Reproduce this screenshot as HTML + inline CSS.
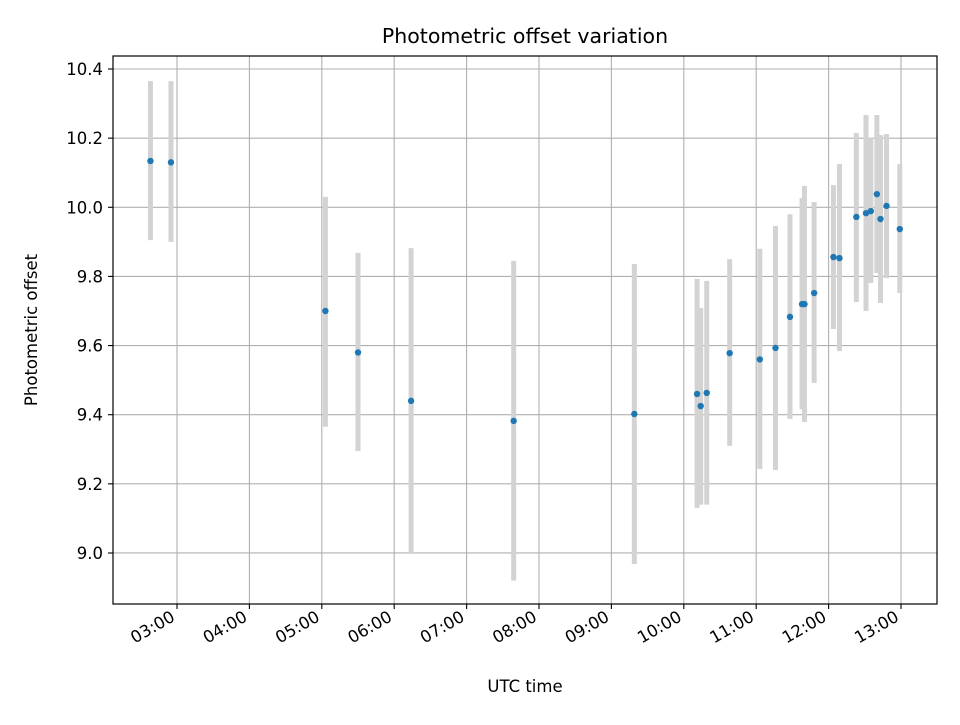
<!DOCTYPE html>
<html><head><meta charset="utf-8"><style>
body{margin:0;background:#fff;}
svg{font-family:"DejaVu Sans","Liberation Sans",sans-serif;}
</style></head><body>
<svg id="chart" width="960" height="720" viewBox="0 0 960 720" xmlns="http://www.w3.org/2000/svg">
<rect width="960" height="720" fill="#fff"/>
<g id="grid"></g>
<g id="bars"></g>
<g id="pts"></g>
<rect x="113" y="56" width="824" height="548" fill="none" stroke="#000" stroke-width="1.2"/>
<g id="axes"></g>
<text x="525" y="43" text-anchor="middle" font-size="20.5">Photometric offset variation</text>
<text x="525" y="692" text-anchor="middle" font-size="16.5">UTC time</text>
<text transform="translate(37,330) rotate(-90)" text-anchor="middle" font-size="16.5">Photometric offset</text>
</svg>
<script>
const times = ["02:38","02:55","05:03","05:30","06:14","07:39","09:19","10:11","10:14","10:19","10:38","11:03","11:16","11:28","11:38","11:40","11:48","12:04","12:09","12:23","12:31","12:35","12:40","12:43","12:48","12:59"];
const values = [10.134,10.13,9.70,9.58,9.44,9.382,9.402,9.46,9.425,9.463,9.578,9.56,9.593,9.683,9.72,9.72,9.752,9.856,9.853,9.972,9.983,9.989,10.038,9.966,10.004,9.937];
const uppers = [10.365,10.365,10.03,9.868,9.882,9.845,9.836,9.793,9.709,9.787,9.85,9.88,9.946,9.98,10.027,10.062,10.015,10.064,10.125,10.215,10.267,10.2,10.267,10.209,10.212,10.125];
const lowers = [9.905,9.90,9.365,9.295,9.0,8.92,8.968,9.13,9.14,9.14,9.31,9.243,9.24,9.388,9.416,9.379,9.492,9.648,9.584,9.726,9.7,9.781,9.81,9.723,9.795,9.752];
const yTicks = [9.0,9.2,9.4,9.6,9.8,10.0,10.2,10.4];
const xTicks = ["03:00","04:00","05:00","06:00","07:00","08:00","09:00","10:00","11:00","12:00","13:00"];

const NS="http://www.w3.org/2000/svg";
function hrs(t){const p=t.split(":");return +p[0]+(+p[1])/60;}
function xs(h){return 177+(h-3)*72.4;}
function ys(v){return 69+(10.4-v)*345.7;}
function mk(tag,attrs,parent){const e=document.createElementNS(NS,tag);for(const k in attrs)e.setAttribute(k,attrs[k]);parent.appendChild(e);return e;}
const grid=document.getElementById('grid'),axes=document.getElementById('axes'),bars=document.getElementById('bars'),pts=document.getElementById('pts');

yTicks.forEach(v=>{
  const y=ys(v);
  const g=mk('line',{x1:113,x2:937,y1:y,y2:y,stroke:'#b0b0b0','stroke-width':1.1},grid);
  
  
  const t=mk('line',{x1:108,x2:113,y1:y,y2:y,stroke:'#000','stroke-width':1.1},axes);
  
  
  const l=mk('text',{x:103,y:y+6,'text-anchor':'end','font-size':16.5},axes);
  l.textContent=v.toFixed(1);
  
  
});
xTicks.forEach(s=>{
  const x=xs(hrs(s));
  const g=mk('line',{x1:x,x2:x,y1:56,y2:604,stroke:'#b0b0b0','stroke-width':1.1},grid);
  
  
  const t=mk('line',{x1:x,x2:x,y1:604,y2:609,stroke:'#000','stroke-width':1.1},axes);
  
  
  const l=mk('text',{x:x-1,y:620,'text-anchor':'end','font-size':16.5,transform:`rotate(-30 ${x-1} 620)`},axes);
  l.textContent=s;
  
  
});
times.forEach((t,i)=>{
  const x=xs(hrs(t));
  const b=mk('line',{x1:x,x2:x,y1:ys(uppers[i]),y2:ys(lowers[i]),stroke:'#d3d3d3','stroke-width':5},bars);
  
  
});
times.forEach((t,i)=>{
  const c=mk('circle',{cx:xs(hrs(t)),cy:ys(values[i]),r:3.2,fill:'#1f77b4'},pts);
  
  
});
</script>
</body></html>
